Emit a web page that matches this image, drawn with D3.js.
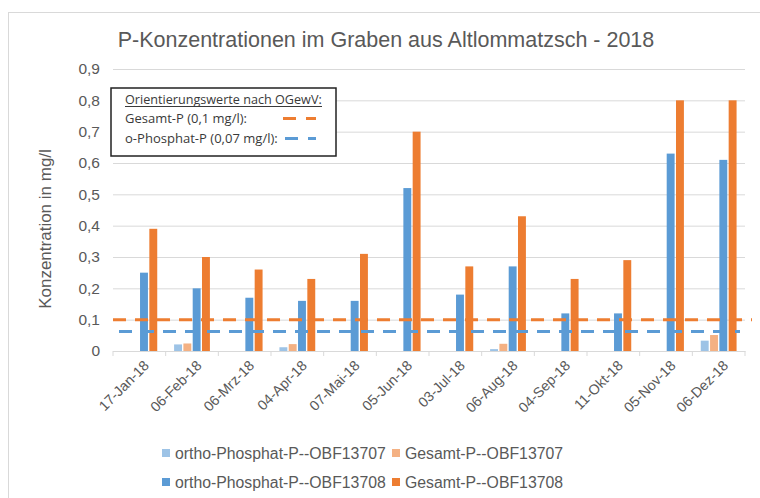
<!DOCTYPE html>
<html>
<head>
<meta charset="utf-8">
<script src="https://cdn.jsdelivr.net/npm/d3@7"></script>
<style>
  body { margin: 0; background: #fff; }
  text { font-family: "Liberation Sans", Arial, sans-serif; fill: #595959; }
  .box text { font-family: "Open Sans", "Noto Sans", sans-serif; fill: #3a3a3a; }
</style>
</head>
<body>
<svg id="chart" width="760" height="498"></svg>
<script>
// values
var categories = ["17-Jan-18", "06-Feb-18", "06-Mrz-18", "04-Apr-18", "07-Mai-18", "05-Jun-18",
                  "03-Jul-18", "06-Aug-18", "04-Sep-18", "11-Okt-18", "05-Nov-18", "06-Dez-18"];
var ortho13707  = [null, 0.021, null, 0.012, null, null, null, 0.006, null, null, null, 0.033];
var gesamt13707 = [null, 0.024, null, 0.022, null, null, null, 0.023, null, null, null, 0.051];
var ortho13708  = [0.25, 0.20, 0.17, 0.16, 0.16, 0.52, 0.18, 0.27, 0.12, 0.12, 0.63, 0.61];
var gesamt13708 = [0.39, 0.30, 0.26, 0.23, 0.31, 0.70, 0.27, 0.43, 0.23, 0.29, 0.80, 0.80];

var seriesNames = ["ortho-Phosphat-P--OBF13707", "Gesamt-P--OBF13707",
                   "ortho-Phosphat-P--OBF13708", "Gesamt-P--OBF13708"];
var seriesColors = ["#9dc3e6", "#f4b183", "#5b9bd5", "#ed7d31"];
var yTicks = [0, 0.1, 0.2, 0.3, 0.4, 0.5, 0.6, 0.7, 0.8, 0.9];
var yTickLabels = ["0", "0,1", "0,2", "0,3", "0,4", "0,5", "0,6", "0,7", "0,8", "0,9"];

// orientation values (lines as drawn in the picture)
var refGesamt = 0.1;
var refOrtho = 0.062;

var allSeries = [ortho13707, gesamt13707, ortho13708, gesamt13708];

var margin = {top: 69, right: 15, bottom: 147, left: 113},
    width = 760 - margin.left - margin.right,
    height = 498 - margin.top - margin.bottom;

var svg = d3.select("#chart");

// outer chart border
svg.append("rect")
  .attr("x", 8.5).attr("y", 12.5)
  .attr("width", 800).attr("height", 600)
  .attr("fill", "none").attr("stroke", "#d9d9d9");

svg.append("text")
  .attr("x", 386).attr("y", 47)
  .attr("text-anchor", "middle")
  .style("font-size", "21.5px")
  .text("P-Konzentrationen im Graben aus Altlommatzsch - 2018");

svg.append("text")
  .attr("transform", "translate(45,229) rotate(-90)")
  .attr("text-anchor", "middle")
  .attr("dy", "0.35em")
  .style("font-size", "17px")
  .text("Konzentration in mg/l");

var g = svg.append("g")
  .attr("transform", "translate(" + margin.left + "," + margin.top + ")");

var x0 = d3.scaleBand()
  .domain(categories)
  .range([0, width])
  .paddingInner(0.32)
  .paddingOuter(0.16);

var x1 = d3.scaleBand()
  .domain(d3.range(allSeries.length))
  .range([0, x0.bandwidth()])
  .paddingInner(0.15);

var y = d3.scaleLinear()
  .domain([0, 0.9])
  .range([height, 0]);

// y axis + gridlines
var yAxis = g.append("g")
  .call(d3.axisLeft(y)
    .tickValues(yTicks)
    .tickFormat(function(d, i) { return yTickLabels[i]; })
    .tickSize(-width)
    .tickPadding(13));
yAxis.select(".domain").remove();
yAxis.selectAll("line").attr("stroke", "#d9d9d9");
yAxis.selectAll("text").style("font-size", "15.5px").attr("fill", "#595959");

// x axis
var xAxis = g.append("g")
  .attr("transform", "translate(0," + height + ")")
  .call(d3.axisBottom(x0).tickSize(0).tickSizeOuter(0));
xAxis.select(".domain").attr("stroke", "#d9d9d9");
xAxis.selectAll("text")
  .attr("y", 0).attr("dy", "0.35em")
  .attr("text-anchor", "end")
  .attr("transform", "translate(7,12) rotate(-45)")
  .style("font-size", "14.2px").attr("fill", "#595959");

// category boundary ticks
g.append("g").selectAll("line")
  .data(d3.range(categories.length + 1))
  .enter().append("line")
    .attr("x1", function(i) { return x0.range()[0] + i * x0.step(); })
    .attr("x2", function(i) { return x0.range()[0] + i * x0.step(); })
    .attr("y1", height).attr("y2", height + 5)
    .attr("stroke", "#d9d9d9");

// bars
var bars = [];
categories.forEach(function(c, ci) {
  allSeries.forEach(function(s, si) {
    if (s[ci] != null) bars.push({cat: c, s: si, v: s[ci]});
  });
});

g.append("g").selectAll("rect")
  .data(bars)
  .enter().append("rect")
    .attr("x", function(d) { return x0(d.cat) + x1(d.s); })
    .attr("y", function(d) { return y(d.v); })
    .attr("width", x1.bandwidth())
    .attr("height", function(d) { return height - y(d.v); })
    .attr("fill", function(d) { return seriesColors[d.s]; });

// orientation lines
g.append("line")
  .attr("x1", 0).attr("x2", width + 7)
  .attr("y1", y(refGesamt)).attr("y2", y(refGesamt))
  .attr("stroke", "#ed7d31").attr("stroke-width", 3)
  .attr("stroke-dasharray", "13,9");
g.append("line")
  .attr("x1", 6).attr("x2", width - 5)
  .attr("y1", y(refOrtho)).attr("y2", y(refOrtho))
  .attr("stroke", "#5b9bd5").attr("stroke-width", 3)
  .attr("stroke-dasharray", "13,9");

// text box with orientation values
var box = svg.append("g").attr("class", "box");
box.append("rect")
  .attr("x", 111).attr("y", 88).attr("width", 225).attr("height", 68)
  .attr("fill", "#fff").attr("stroke", "#222").attr("stroke-width", 1.5);

function fit(t, w) {
  var len = t.node().getComputedTextLength();
  var fs = parseFloat(t.style("font-size"));
  t.style("font-size", (fs * w / len) + "px");
}

var head = box.append("text").attr("x", 125).attr("y", 104)
  .style("font-size", "13px").text("Orientierungswerte nach OGewV:");
fit(head, 197);
box.append("line")
  .attr("x1", 125).attr("x2", 322).attr("y1", 106.5).attr("y2", 106.5)
  .attr("stroke", "#3a3a3a").attr("stroke-width", 1);

var l2 = box.append("text").attr("x", 125).attr("y", 123)
  .style("font-size", "13px").text("Gesamt-P (0,1 mg/l):");
fit(l2, 122);
var l3 = box.append("text").attr("x", 125).attr("y", 143)
  .style("font-size", "13px").text("o-Phosphat-P (0,07 mg/l):");
fit(l3, 153);

box.append("line")
  .attr("x1", 283).attr("x2", 316).attr("y1", 118.5).attr("y2", 118.5)
  .attr("stroke", "#ed7d31").attr("stroke-width", 3)
  .attr("stroke-dasharray", "13,10");
box.append("line")
  .attr("x1", 285).attr("x2", 316).attr("y1", 138.5).attr("y2", 138.5)
  .attr("stroke", "#5b9bd5").attr("stroke-width", 3)
  .attr("stroke-dasharray", "13,10");

// bottom legend, 2 columns x 2 rows
var legPos = [[162, 453], [392, 453], [162, 482], [392, 482]];
var leg = svg.append("g").selectAll("g")
  .data(seriesNames)
  .enter().append("g")
    .attr("transform", function(d, i) { return "translate(" + legPos[i][0] + "," + legPos[i][1] + ")"; });
leg.append("rect")
  .attr("x", 0).attr("y", -4).attr("width", 8).attr("height", 8)
  .attr("fill", function(d, i) { return seriesColors[i]; });
leg.append("text")
  .attr("x", 13).attr("y", 0).attr("dy", "0.36em")
  .style("font-size", "15.8px")
  .text(function(d) { return d; });
</script>
</body>
</html>
